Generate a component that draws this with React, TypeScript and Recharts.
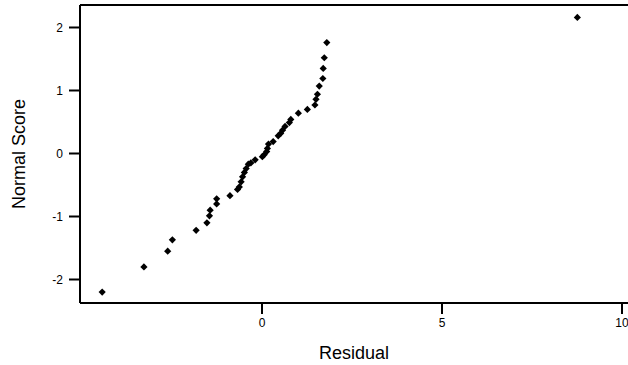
import React from 'react';
import { ScatterChart, Scatter, XAxis, YAxis, ReferenceLine, Label } from 'recharts';

// residuals vs normal scores
const residuals = [
  -4.44, -3.28, -2.62, -2.49, -1.83, -1.53, -1.46, -1.44, -1.26, -1.26,
  -0.89, -0.68, -0.63, -0.58, -0.54, -0.49, -0.44, -0.38, -0.31, -0.19,
  0.01, 0.06, 0.13, 0.15, 0.18, 0.31, 0.45, 0.52, 0.57, 0.64,
  0.76, 0.8, 1.01, 1.26, 1.47, 1.5, 1.54, 1.59, 1.69, 1.7,
  1.73, 1.8, 8.76,
];
const normalScores = [
  -2.2, -1.8, -1.55, -1.37, -1.22, -1.1, -0.99, -0.9, -0.8, -0.72,
  -0.67, -0.57, -0.53, -0.45, -0.37, -0.3, -0.24, -0.17, -0.15, -0.1,
  -0.05, -0.02, 0.03, 0.08, 0.15, 0.19, 0.28, 0.32, 0.37, 0.43,
  0.49, 0.54, 0.64, 0.7, 0.77, 0.86, 0.94, 1.07, 1.19, 1.35,
  1.52, 1.76, 2.16,
];
const xTicks = [0, 5, 10];
const yTicks = [-2, -1, 0, 1, 2];

const data = residuals.map((r, i) => ({ residual: r, score: normalScores[i] }));

const FONT = '"Liberation Sans", Arial, sans-serif';
const Y_MAX = 2.357;

// small filled diamond like the original print
const Diamond = (props: any) => {
  const { cx, cy } = props;
  const r = 3.6;
  return <path d={`M${cx},${cy - r}L${cx + r},${cy}L${cx},${cy + r}L${cx - r},${cy}Z`} fill="#000" />;
};

// rotated y title, centred on the plot height
const YTitle = (props: any) => {
  const vb = props.viewBox || {};
  const x = 19;
  const y = (vb.y ?? 5) + (vb.height ?? 298) / 2;
  return (
    <text
      x={x}
      y={y}
      transform={`rotate(-90, ${x}, ${y})`}
      textAnchor="middle"
      dominantBaseline="central"
      fill="#000"
      fontSize={18}
      fontFamily={FONT}
    >
      Normal Score
    </text>
  );
};

export default function App() {
  return (
    <div style={{ position: 'absolute', left: 0, top: 0, width: 628, height: 365, background: '#fff' }}>
      <ScatterChart width={628} height={365} margin={{ top: 5, right: 0, bottom: 0, left: 0 }}>
        <XAxis
          type="number"
          dataKey="residual"
          domain={[-5.056, 10.167]}
          ticks={xTicks}
          allowDataOverflow
          height={62}
          tickSize={11}
          tickMargin={4}
          axisLine={{ stroke: '#000', strokeWidth: 2 }}
          tickLine={{ stroke: '#000', strokeWidth: 2 }}
          tick={{ fill: '#000', fontSize: 12, fontFamily: FONT }}
          label={{ value: 'Residual', position: 'insideBottom', offset: 6, fill: '#000', fontSize: 18, fontFamily: FONT }}
        />
        <YAxis
          type="number"
          dataKey="score"
          domain={[-2.373, Y_MAX]}
          ticks={yTicks}
          allowDataOverflow
          width={80}
          tickSize={11}
          tickMargin={6}
          axisLine={{ stroke: '#000', strokeWidth: 2 }}
          tickLine={{ stroke: '#000', strokeWidth: 2 }}
          tick={{ fill: '#000', fontSize: 12, fontFamily: FONT }}
        >
          <Label content={<YTitle />} />
        </YAxis>
        <ReferenceLine y={Y_MAX} stroke="#000" strokeWidth={2} />
        <Scatter data={data} shape={Diamond} isAnimationActive={false} />
      </ScatterChart>
    </div>
  );
}
